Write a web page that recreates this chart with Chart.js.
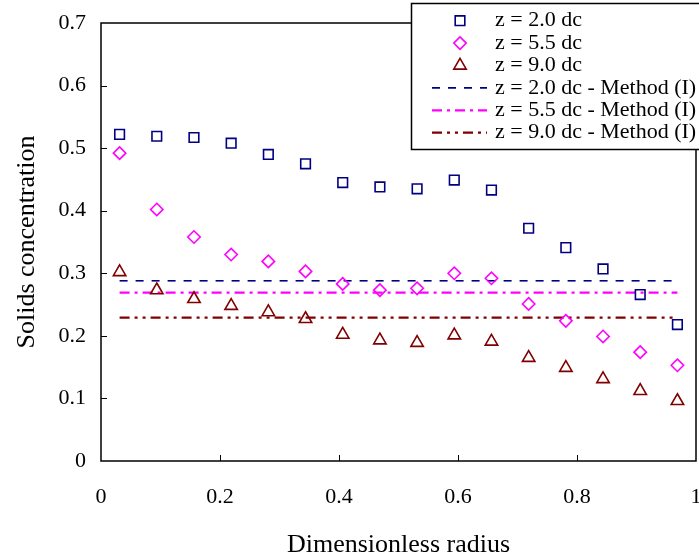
<!DOCTYPE html>
<html>
<head>
<meta charset="utf-8">
<script src="https://cdn.jsdelivr.net/npm/chart.js@4"></script>
<style>
  html, body { margin: 0; padding: 0; background: #ffffff; }
  #wrap { width: 699px; height: 558px; }
</style>
</head>
<body>
<div id="wrap"><canvas id="chart" width="699" height="558"></canvas></div>
<script>
// Radial positions of the measurement points
const radius = [0.03125, 0.09375, 0.15625, 0.21875, 0.28125, 0.34375, 0.40625, 0.46875,
                0.53125, 0.59375, 0.65625, 0.71875, 0.78125, 0.84375, 0.90625, 0.96875];

// Measured solids concentration at three heights
const conc20 = [0.522, 0.519, 0.517, 0.508, 0.490, 0.475, 0.445, 0.438,
                0.435, 0.449, 0.433, 0.372, 0.341, 0.307, 0.266, 0.218];
const conc55 = [0.492, 0.402, 0.358, 0.330, 0.319, 0.303, 0.283, 0.273,
                0.276, 0.300, 0.292, 0.251, 0.224, 0.199, 0.174, 0.153];
const conc90 = [0.302, 0.273, 0.259, 0.248, 0.238, 0.227, 0.202, 0.193,
                0.189, 0.201, 0.191, 0.165, 0.149, 0.131, 0.112, 0.096];

// Method (I) predictions (uniform across the radius)
const method20 = 0.288;
const method55 = 0.269;
const method90 = 0.229;

// Series names
const seriesLabels = [
  'z = 2.0 dc', 'z = 5.5 dc', 'z = 9.0 dc',
  'z = 2.0 dc - Method (I)', 'z = 5.5 dc - Method (I)', 'z = 9.0 dc - Method (I)'
];

// Axis tick values
const xTickValues = [0, 0.2, 0.4, 0.6, 0.8, 1];
const yTickValues = [0, 0.1, 0.2, 0.3, 0.4, 0.5, 0.6, 0.7];

const NAVY = '#000080', MAGENTA = '#FF00FF', MAROON = '#800000';
const SERIF = "'Liberation Serif', 'Times New Roman', serif";

const pts = ys => radius.map((r, i) => ({ x: r, y: ys[i] }));
const flat = v => [{ x: radius[0], y: v }, { x: radius[radius.length - 1], y: v }];

// Plot frame and inward tick marks
const framePlugin = {
  id: 'frame',
  afterDatasetsDraw(chart) {
    const { ctx, chartArea: a, scales } = chart;
    ctx.save();
    ctx.strokeStyle = '#000';
    ctx.lineWidth = 1;
    ctx.beginPath();
    scales.y.ticks.forEach(t => {
      if (t.value <= scales.y.min || t.value >= scales.y.max) return;
      const py = Math.round(scales.y.getPixelForValue(t.value)) + 0.5;
      ctx.moveTo(a.left, py); ctx.lineTo(a.left + 6, py);
    });
    scales.x.ticks.forEach(t => {
      if (t.value <= scales.x.min || t.value >= scales.x.max) return;
      const px = Math.round(scales.x.getPixelForValue(t.value)) + 0.5;
      ctx.moveTo(px, a.bottom); ctx.lineTo(px, a.bottom - 6);
    });
    ctx.stroke();
    ctx.lineWidth = 1.5;
    ctx.strokeRect(a.left, a.top, a.right - a.left, a.bottom - a.top);
    ctx.restore();
  }
};

// Boxed legend in the upper right corner
const boxLegendPlugin = {
  id: 'boxLegend',
  afterDraw(chart, args, opts) {
    const { ctx } = chart;
    ctx.save();
    ctx.fillStyle = '#fff';
    ctx.fillRect(opts.left, opts.top, opts.width, opts.height);
    ctx.strokeStyle = '#000';
    ctx.lineWidth = 1.5;
    ctx.strokeRect(opts.left, opts.top, opts.width, opts.height);
    ctx.font = opts.fontSize + 'px ' + SERIF;
    ctx.textBaseline = 'middle';
    ctx.textAlign = 'left';
    chart.data.datasets.forEach((ds, i) => {
      const y = opts.firstRow + i * opts.rowGap;
      if (ds.showLine === false) {
        ctx.strokeStyle = ds.borderColor;
        ctx.fillStyle = 'rgba(0,0,0,0)';
        ctx.lineWidth = ds.pointBorderWidth;
        ctx.setLineDash([]);
        Chart.helpers.drawPoint(ctx, {
          pointStyle: ds.pointStyle, radius: ds.pointRadius,
          rotation: 0, borderWidth: ds.pointBorderWidth
        }, opts.markerX, y);
      } else {
        ctx.strokeStyle = ds.borderColor;
        ctx.lineWidth = ds.borderWidth;
        ctx.setLineDash(ds.borderDash || []);
        ctx.beginPath();
        ctx.moveTo(opts.lineX0, y);
        ctx.lineTo(opts.lineX1, y);
        ctx.stroke();
        ctx.setLineDash([]);
      }
      ctx.fillStyle = '#000';
      ctx.fillText(ds.label, opts.textX, y);
    });
    ctx.restore();
  }
};

const markerSet = (label, data, color, style, r) => ({
  label, data, showLine: false,
  borderColor: color, backgroundColor: 'rgba(0,0,0,0)',
  pointStyle: style, pointRadius: r, pointHoverRadius: r,
  pointBorderWidth: 1.6, pointBorderColor: color, pointBackgroundColor: 'rgba(0,0,0,0)',
  order: 1
});
const lineSet = (label, data, color, width, dash) => ({
  label, data, showLine: true, fill: false,
  borderColor: color, borderWidth: width, borderDash: dash,
  pointRadius: 0, pointHoverRadius: 0, tension: 0,
  order: 2
});

new Chart(document.getElementById('chart'), {
  type: 'scatter',
  data: {
    datasets: [
      markerSet(seriesLabels[0], pts(conc20), NAVY, 'rect', 6.8),
      markerSet(seriesLabels[1], pts(conc55), MAGENTA, 'rectRot', 6.2),
      markerSet(seriesLabels[2], pts(conc90), MAROON, 'triangle', 7.2),
      lineSet(seriesLabels[3], flat(method20), NAVY, 1.6, [8, 8]),
      lineSet(seriesLabels[4], flat(method55), MAGENTA, 2.2, [10, 5, 3, 5]),
      lineSet(seriesLabels[5], flat(method90), MAROON, 2.2, [10, 5, 3, 5, 3, 5])
    ]
  },
  options: {
    responsive: false,
    animation: false,
    devicePixelRatio: 1,
    layout: { autoPadding: false, padding: { top: 23, right: 3, bottom: 0, left: 0 } },
    plugins: {
      legend: { display: false },
      tooltip: { enabled: false },
      boxLegend: {
        left: 411.5, top: 3.5, width: 300, height: 146,
        firstRow: 20.7, rowGap: 22.4,
        markerX: 460, lineX0: 432, lineX1: 487, textX: 495, fontSize: 22
      }
    },
    scales: {
      x: {
        type: 'linear', min: 0, max: 1,
        afterFit(s) { s.height = 97; s.paddingLeft = 0; s.paddingRight = 0; },
        afterBuildTicks(s) { s.ticks = xTickValues.map(v => ({ value: v })); },
        grid: { display: false, drawTicks: false },
        border: { display: false },
        ticks: {
          padding: 23, color: '#000', maxRotation: 0,
          font: { family: SERIF, size: 22 },
          callback: v => String(Number(v.toFixed(1)))
        },
        title: {
          display: true, text: 'Dimensionless radius', color: '#000',
          font: { family: SERIF, size: 26, lineHeight: 1.0 }, padding: { top: 0, bottom: 0 }
        }
      },
      y: {
        type: 'linear', min: 0, max: 0.7,
        afterFit(s) { s.width = 101; s.paddingTop = 0; s.paddingBottom = 0; },
        afterBuildTicks(s) { s.ticks = yTickValues.map(v => ({ value: v })); },
        grid: { display: false, drawTicks: false },
        border: { display: false },
        ticks: {
          padding: 15, color: '#000',
          font: { family: SERIF, size: 22 },
          callback: v => String(Number(v.toFixed(1)))
        },
        title: {
          display: true, text: 'Solids concentration', color: '#000',
          font: { family: SERIF, size: 26 }, padding: { top: 12, bottom: 0 }
        }
      }
    }
  },
  plugins: [framePlugin, boxLegendPlugin]
});
</script>
</body>
</html>
